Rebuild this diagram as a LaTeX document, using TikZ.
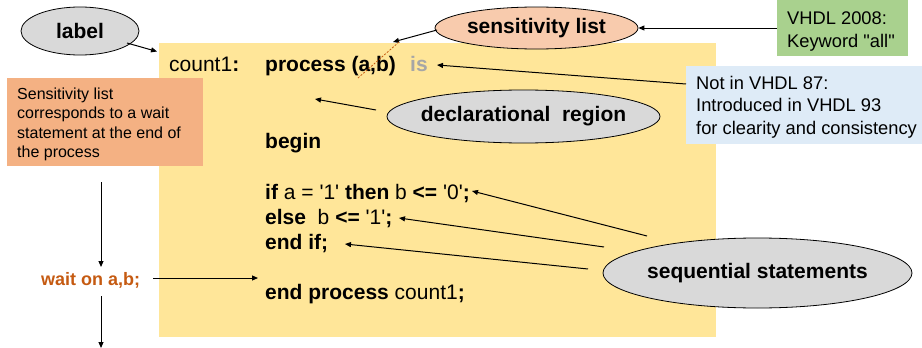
\documentclass[tikz,border=0pt]{standalone}
\usepackage{fontspec}
\setmainfont{Liberation Sans}
\usetikzlibrary{shapes.geometric,arrows.meta}
\definecolor{codebg}{HTML}{FFE699}
\definecolor{peach}{HTML}{F8CBAD}
\definecolor{bubblegrey}{HTML}{D9D9D9}
\definecolor{notebox}{HTML}{F4B183}
\definecolor{greenbox}{HTML}{A9D18E}
\definecolor{bluebox}{HTML}{DEEBF7}
\definecolor{waitcol}{HTML}{C55A11}
\definecolor{iscol}{HTML}{A6A6A6}
\newcommand\qq{\textquotesingle}
\newcommand\dq{\textquotedbl}
\tikzset{
  txt/.style={inner sep=0pt, anchor=base west},
  code/.style={txt, font=\fontsize{21}{25}\selectfont},
  small/.style={txt, font=\fontsize{16}{19}\selectfont},
  note/.style={txt, font=\fontsize{18.3}{22}\selectfont},
  bubble/.style={ellipse, draw=black, line width=0.8pt, inner sep=0pt,
    font=\fontsize{21}{25}\selectfont\bfseries},
  panel/.style={anchor=north west, inner sep=0pt, draw=none},
  arr/.style={-{Triangle[length=6pt,width=5pt]}, line width=1pt},
}
\begin{document}
\begin{tikzpicture}[x=1pt,y=-1pt]
\useasboundingbox (0,0) rectangle (922,348);

% code background
\node[panel, fill=codebg, minimum width=557pt, minimum height=294pt] (codebox) at (159,43) {};

% boxes
\node[panel, fill=notebox, minimum width=196pt, minimum height=88pt] (obox) at (7,78) {};
\node[panel, fill=greenbox, minimum width=131pt, minimum height=56pt] (gbox) at (777,0) {};
\node[panel, fill=bluebox, minimum width=236pt, minimum height=78pt] (bbox) at (686,66) {};

% ellipses
\node[bubble, fill=bubblegrey, minimum width=118pt, minimum height=48pt] (lbl) at (80,31) {\makebox[0pt]{label}};
\node[bubble, fill=peach, minimum width=203pt, minimum height=42pt] (sens) at (536.5,28) {\makebox[0pt]{sensitivity list}};
\node[bubble, fill=bubblegrey, minimum width=273pt, minimum height=53pt] (decl) at (523.5,116.5) {\makebox[0pt]{declarational\ \ region}};
\node[bubble, fill=bubblegrey, minimum width=309pt, minimum height=70pt] (seq) at (757.5,273) {\makebox[0pt]{sequential statements}};

% orange note text
\node[small] (o1) at (17,99) {Sensitivity list};
\node[small] (o2) at (17,118.5) {corresponds to a wait};
\node[small] (o3) at (17,138) {statement at the end of};
\node[small] (o4) at (17,157) {the process};

% green note text
\node[note] (g1) at (787,24) {VHDL 2008:};
\node[note] (g2) at (787,47) {Keyword \dq all\dq};

% blue note text
\node[note] (b1) at (696,89) {Not in VHDL 87:};
\node[note] (b2) at (696,111.5) {Introduced in VHDL 93};
\node[note] (b3) at (696,134) {for clearity and consistency};

% code text
\node[code] (c0) at (169,71) {count1\textbf{:}};
\node[code] (c1) at (265,71) {\textbf{process (a,b)}};
\node[code, text=iscol] (cis) at (410,71) {\textbf{is}};
\node[code] (c2) at (265,148) {\textbf{begin}};
\node[code] (c3) at (265,199) {\textbf{if} a = \qq1\qq{} \textbf{then} b \textbf{<=} \qq0\qq\textbf{;}};
\node[code] (c4) at (265,224) {\textbf{else}\ \ b \textbf{<=} \qq1\qq\textbf{;}};
\node[code] (c5) at (265,249) {\textbf{end if;}};
\node[code] (c6) at (265,299) {\textbf{end process} count1\textbf{;}};

% wait statement
\node[txt, font=\fontsize{18}{21}\selectfont\bfseries, text=waitcol] (wait) at (41,285) {wait on a,b;};

% coordinates for arrow ends
\coordinate (lblS) at (127,43);
\coordinate (lblT) at (157,51.5);
\coordinate (sensS) at (437,30);
\coordinate (sensT) at (393,42);
\coordinate (dashA) at (358,78);
\coordinate (dashB) at (399,42);
\coordinate (bS) at (686,84);
\coordinate (isT) at (437,65);
\coordinate (declS) at (376,110);
\coordinate (declT) at (315,99);
\coordinate (s1S) at (647,236);
\coordinate (s1T) at (472,191);
\coordinate (s2S) at (604,247);
\coordinate (s2T) at (399,218);
\coordinate (s3S) at (588,269);
\coordinate (s3T) at (345,244);
\coordinate (vTop) at (101,182);
\coordinate (vMid) at (101,267);
\coordinate (vLow) at (101,296);
\coordinate (vEnd) at (101,348);
\coordinate (wS) at (153,278);
\coordinate (wT) at (258,278);

% connectors
\draw[arr] (lblS) -- (lblT);
\draw[arr] (sensS) -- (sensT);
\draw[waitcol, line width=0.8pt, dash pattern=on 2pt off 1.5pt] (dashA) -- (dashB);
\draw[arr] (gbox.west |- sens.east) -- (sens.east);
\draw[arr] (bS) -- (isT);
\draw[arr] (declS) -- (declT);
\draw[arr] (s1S) -- (s1T);
\draw[arr] (s2S) -- (s2T);
\draw[arr] (s3S) -- (s3T);
\draw[arr] (vTop) -- (vMid);
\draw[arr] (vLow) -- (vEnd);
\draw[arr] (wS) -- (wT);
\end{tikzpicture}
\end{document}
